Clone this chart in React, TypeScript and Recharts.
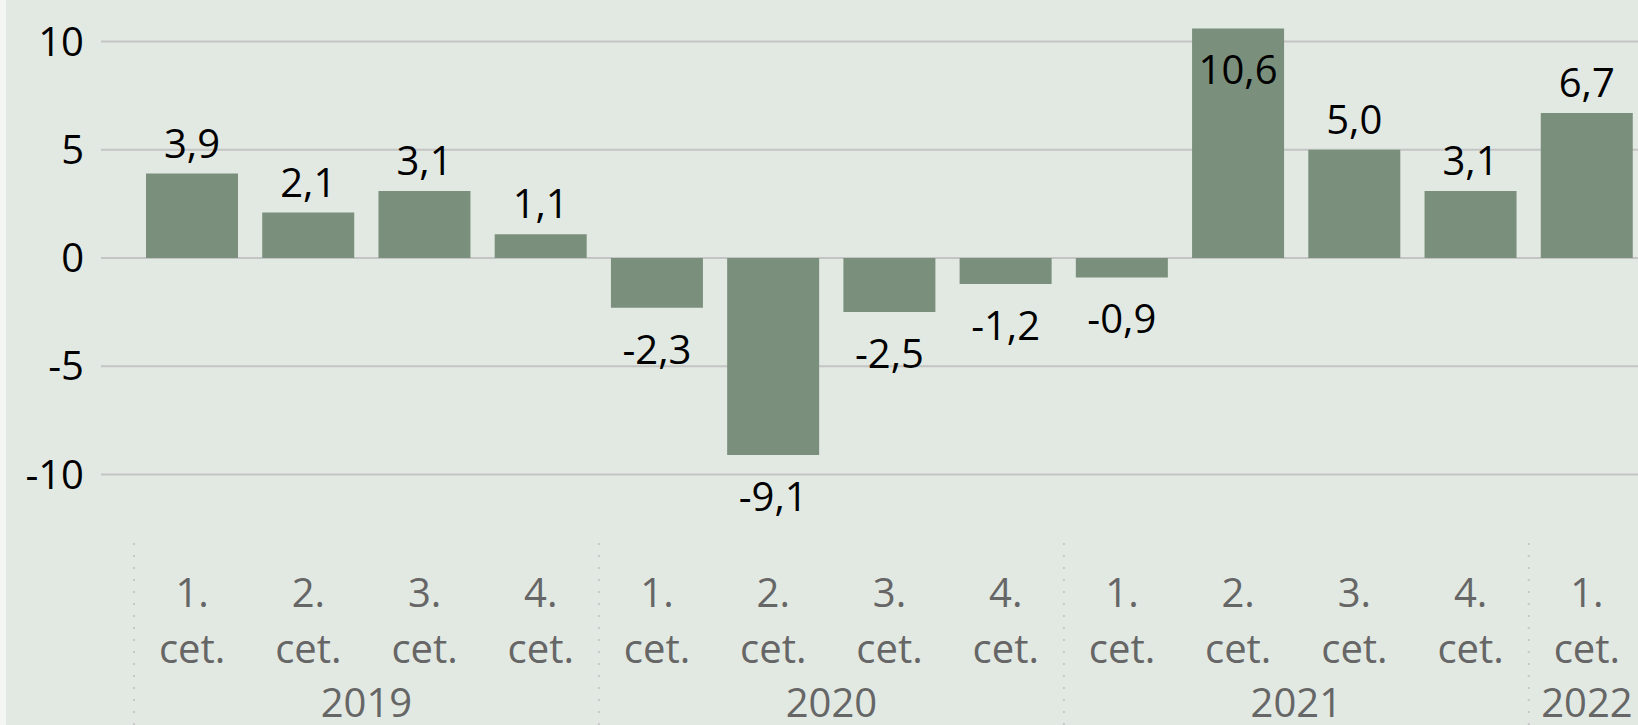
import React from 'react';
import { BarChart, Bar, XAxis, YAxis, CartesianGrid } from 'recharts';

const quarters = ['1. cet.', '2. cet.', '3. cet.', '4. cet.', '1. cet.', '2. cet.', '3. cet.', '4. cet.', '1. cet.', '2. cet.', '3. cet.', '4. cet.', '1. cet.'];
const years = ['2019', '2019', '2019', '2019', '2020', '2020', '2020', '2020', '2021', '2021', '2021', '2021', '2022'];
const growth = [3.9, 2.1, 3.1, 1.1, -2.3, -9.1, -2.5, -1.2, -0.9, 10.6, 5.0, 3.1, 6.7];
const yTicks = [-10, -5, 0, 5, 10];

const data = quarters.map((q, i) => ({ key: `${ years[i] }-${ i }`, quarter: q, year: years[i], value: growth[i] }));

const FONT = '"Open Sans", "Noto Sans", sans-serif';
const FS = 40;
const fmt = (v: number) => v.toFixed(1).replace('.', ',');

const QuarterTick = (props: any) => {
  const { x, y, payload, index } = props;
  const row = data[index];
  const half = payload.offset || 58;
  const [num, word] = row.quarter.split(' ');
  const first = index === 0 || data[index - 1].year !== row.year;
  let count = 0;
  for (let j = index; j < data.length && data[j].year === row.year; j++) count++;
  const yearX = x - half + count * half;
  return (
    <g>
      { first && (
        <line x1={ x - half } x2={ x - half } y1={ y } y2={ y + 200 } stroke="#c8c8c8" strokeWidth={ 2 } strokeDasharray="2 10" />
      ) }
      <text x={ x } y={ y + 64 } textAnchor="middle" fill="#666666" fontSize={ FS } fontFamily={ FONT }>{ num }</text>
      <text x={ x } y={ y + 120 } textAnchor="middle" fill="#666666" fontSize={ FS } fontFamily={ FONT }>{ word }</text>
      { first && (
        <text x={ yearX } y={ y + 174 } textAnchor="middle" fill="#666666" fontSize={ FS } fontFamily={ FONT }>{ row.year }</text>
      ) }
    </g>
  );
};

const ValueLabel = (props: any) => {
  const { x, y, width, height, value } = props;
  const top = Math.min(y, y + height);
  const bottom = Math.max(y, y + height);
  let ty = top - 16;
  if (value < 0) ty = bottom + 56;
  else if (value > 10) ty = top + 55;
  return (
    <text x={ x + width / 2 } y={ ty } textAnchor="middle" fill="#000000" fontSize={ FS } fontFamily={ FONT }>
      { fmt(value) }
    </text>
  );
};

export default function App() {
  return (
    <div style={ { position: 'absolute', top: 0, left: 0, width: 1638, height: 725, overflow: 'hidden', background: '#f4f6f4' } }>
      <div style={ { position: 'absolute', top: 0, left: 6, width: 1632, height: 725, background: '#e2e9e3' } } />
      <div style={ { position: 'absolute', top: -60, left: 0 } }>
        <BarChart
          width={ 1712 }
          height={ 785 }
          data={ data }
          margin={ { top: 33, right: 34, bottom: 0, left: 0 } }
          barSize={ 92 }
        >
          <CartesianGrid vertical={ false } stroke="#c4c4c4" strokeWidth={ 2 } syncWithTicks />
          <XAxis
            dataKey="key"
            height={ 182 }
            interval={ 0 }
            tickLine={ false }
            axisLine={ false }
            tickSize={ 0 }
            tickMargin={ 0 }
            padding={ { left: 33, right: 33 } }
            tick={ <QuarterTick /> }
          />
          <YAxis
            width={ 101 }
            domain={ [-13.17, 13.17] }
            ticks={ yTicks }
            tickLine={ false }
            axisLine={ false }
            tickSize={ 0 }
            tickMargin={ 17 }
            tick={ { fill: '#000000', fontSize: FS, fontFamily: FONT } }
          />
          <Bar dataKey="value" fill="#7a8f7c" isAnimationActive={ false } label={ <ValueLabel /> } />
        </BarChart>
      </div>
    </div>
  );
}
